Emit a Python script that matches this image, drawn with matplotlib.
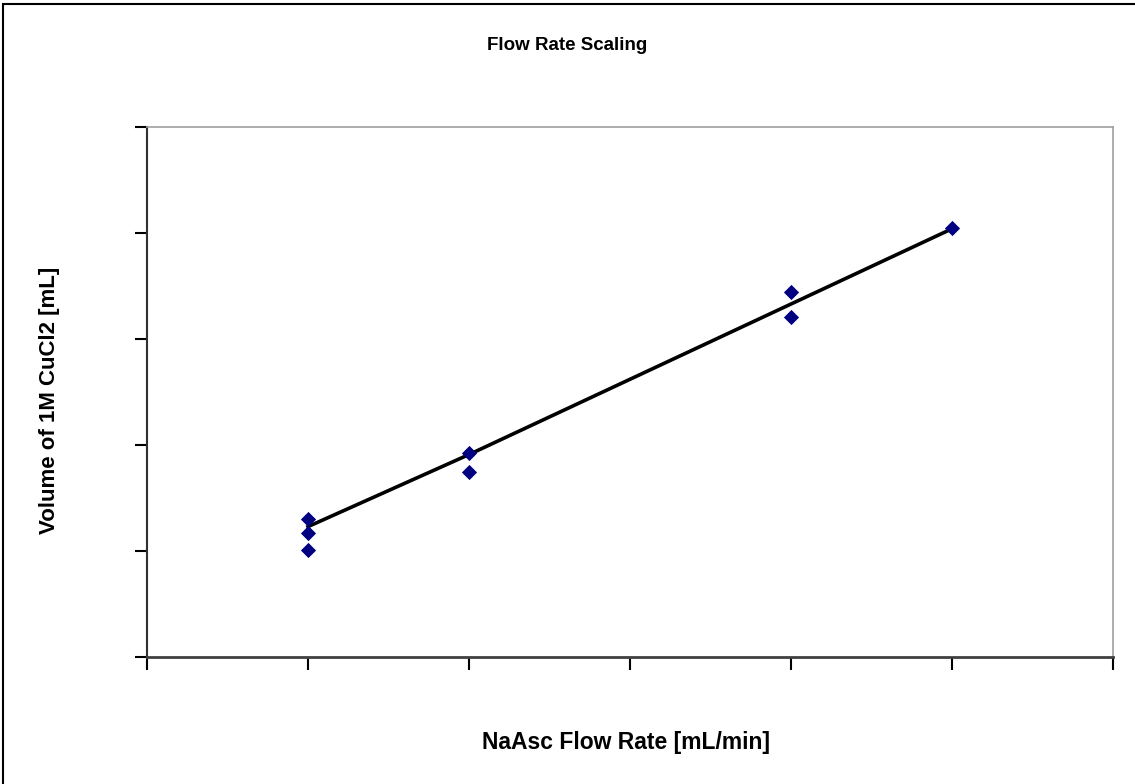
import matplotlib
matplotlib.use("Agg")
import matplotlib.pyplot as plt
from matplotlib.patches import Rectangle

plt.rcParams['font.family'] = ['Liberation Sans', 'DejaVu Sans']

# measured points (flow rate tick index, volume tick units)
flow = [1, 1, 1, 2, 2, 4, 4, 5]
volume = [1.30, 1.17, 1.01, 1.92, 1.75, 3.44, 3.21, 4.05]

# trend line
line_x = [1, 2, 4, 5]
line_y = [1.23, 1.91, 3.33, 4.04]

fig = plt.figure(figsize=(11.35, 7.84), dpi=100)
W, H = 1135, 784
ax = fig.add_axes([147 / W, 1 - 657 / H, (1113 - 147) / W, (657 - 127) / H])

ax.plot(line_x, line_y, color='black', lw=2.6, zorder=2)
ax.scatter(flow, volume, marker='D', s=60, color='#000080', zorder=3, linewidths=0)

ax.set_xlim(0, 6)
ax.set_ylim(0, 5)
ax.set_xticks(range(7))
ax.set_yticks(range(6))
ax.set_xticklabels([])
ax.set_yticklabels([])
ax.tick_params(direction='out', length=9, width=1.5, color='black')

for s in ['top', 'right']:
    ax.spines[s].set_color('#a0a0a0')
    ax.spines[s].set_linewidth(1.2)
ax.spines['left'].set_color('#303030')
ax.spines['left'].set_linewidth(1.5)
ax.spines['bottom'].set_color('#404040')
ax.spines['bottom'].set_linewidth(2)

fig.text(567 / W, 1 - 45 / H, 'Flow Rate Scaling', ha='center', va='center',
         fontsize=13.5, fontweight='bold')
fig.text(626 / W, 1 - 743 / H, 'NaAsc Flow Rate [mL/min]', ha='center', va='center',
         fontsize=16.5, fontweight='bold')
fig.text(50 / W, 1 - 400 / H, 'Volume of 1M CuCl2 [mL]', ha='center', va='center',
         rotation=90, fontsize=16, fontweight='bold')

fig.patches.append(Rectangle((3 / W, -0.1), 1.2, 1 - 4 / H + 0.1, transform=fig.transFigure,
                             fill=False, edgecolor='black', lw=1.5))

fig.savefig('out.png', dpi=100)
